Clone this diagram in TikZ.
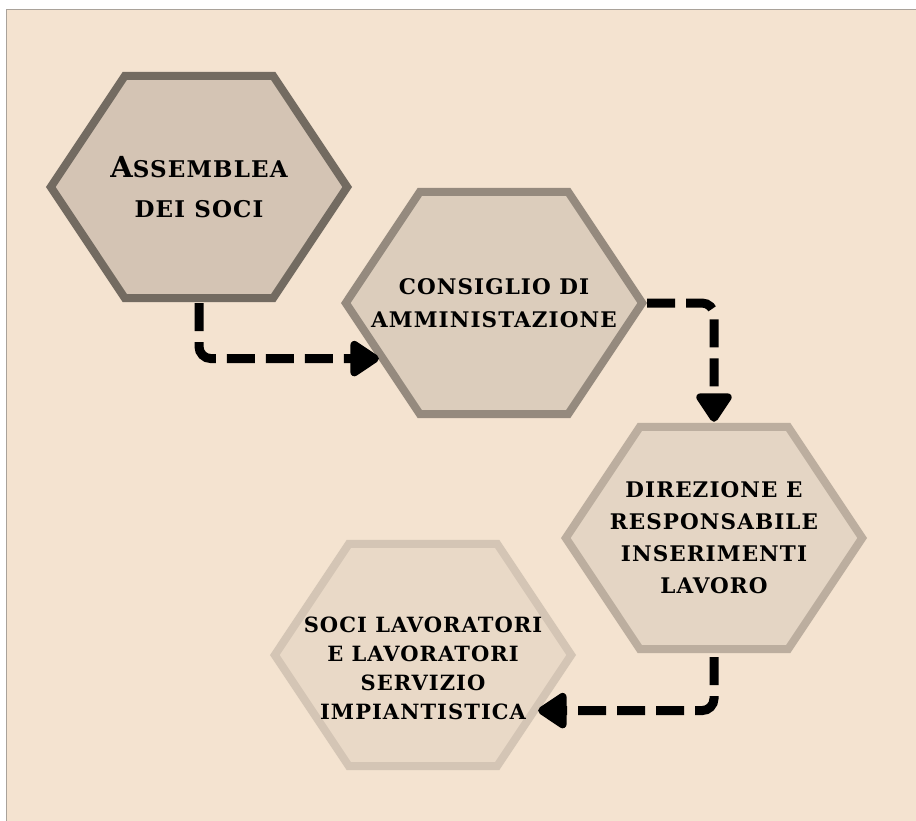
\documentclass[tikz,border=0pt]{standalone}
\usepackage{fontspec}
\setmainfont{DejaVu Serif}[LetterSpace=5]
\usepackage{tikz}
\usetikzlibrary{arrows.meta,calc,backgrounds,positioning}
\definecolor{paper}{HTML}{F4E3D0}
\definecolor{frame}{HTML}{A9A29A}
\definecolor{fillA}{HTML}{D4C4B4}
\definecolor{lineA}{HTML}{736B61}
\definecolor{fillB}{HTML}{DCCDBC}
\definecolor{lineB}{HTML}{958A7E}
\definecolor{fillC}{HTML}{E4D5C4}
\definecolor{lineC}{HTML}{BCAE9F}
\definecolor{fillD}{HTML}{E9D9C7}
\definecolor{lineD}{HTML}{D4C5B5}

\begin{document}
\begin{tikzpicture}[x=1pt,y=-1pt,
  hexbox/.style={minimum width=296pt, minimum height=222pt, inner sep=0pt, align=center, font=\bfseries\fontsize{21.5}{32}\selectfont},
  hexline/.style={line width=8pt, line join=miter},
  flow/.style={line width=9pt, dash pattern=on 28pt off 11pt, rounded corners=12pt, -{Triangle[length=32pt,width=40pt,round]}}]
\useasboundingbox (0,0) rectangle (916,820);

\node [hexbox, font=\bfseries\fontsize{23}{40}\selectfont] (assemblea) at (199,187) {{\fontsize{29}{40}\selectfont A}SSEMBLEA\\DEI SOCI};
\node [hexbox, font=\bfseries\fontsize{21.5}{33}\selectfont] (consiglio) at (494,303) {CONSIGLIO DI\\AMMINISTAZIONE};
\node [hexbox] (direzione) at (714,538) {DIREZIONE E\\RESPONSABILE\\INSERIMENTI\\LAVORO};
\node [hexbox, font=\bfseries\fontsize{21}{29}\selectfont] (soci) at (423,655) {\rule{0pt}{42pt}SOCI LAVORATORI\\E LAVORATORI\\SERVIZIO\\IMPIANTISTICA};

% corners of the hexagons
\foreach \n in {assemblea,consiglio,direzione,soci} {
  \coordinate (\n-nw) at ($(\n.north west)!.25!(\n.north east)$);
  \coordinate (\n-ne) at ($(\n.north west)!.75!(\n.north east)$);
  \coordinate (\n-sw) at ($(\n.south west)!.25!(\n.south east)$);
  \coordinate (\n-se) at ($(\n.south west)!.75!(\n.south east)$);
}
\coordinate (consiglio-in) at ($(consiglio.west)!.5!(consiglio-sw)$);
\coordinate (soci-in) at ($(soci.east)!.5!(soci-se)$);

\begin{scope}[on background layer]
\fill [white] (0,0) rectangle (916,820);
\filldraw [paper, draw=frame, line width=1pt] (6,9) rectangle (920,824);
\foreach \n/\f/\d in {assemblea/fillA/lineA, consiglio/fillB/lineB, direzione/fillC/lineC, soci/fillD/lineD}
  \filldraw [hexline, fill=\f, draw=\d] (\n.west) -- (\n-nw) -- (\n-ne) -- (\n.east) -- (\n-se) -- (\n-sw) -- cycle;
\end{scope}

\draw [flow, shorten <=5pt, shorten >=4pt] (assemblea.south) |- (consiglio-in);
\draw [flow, shorten <=5pt, shorten >=5pt] (consiglio.east) -| (direzione.north);
\draw [flow, shorten <=8pt, shorten >=4pt] (direzione.south) |- (soci-in);

\end{tikzpicture}
\end{document}
